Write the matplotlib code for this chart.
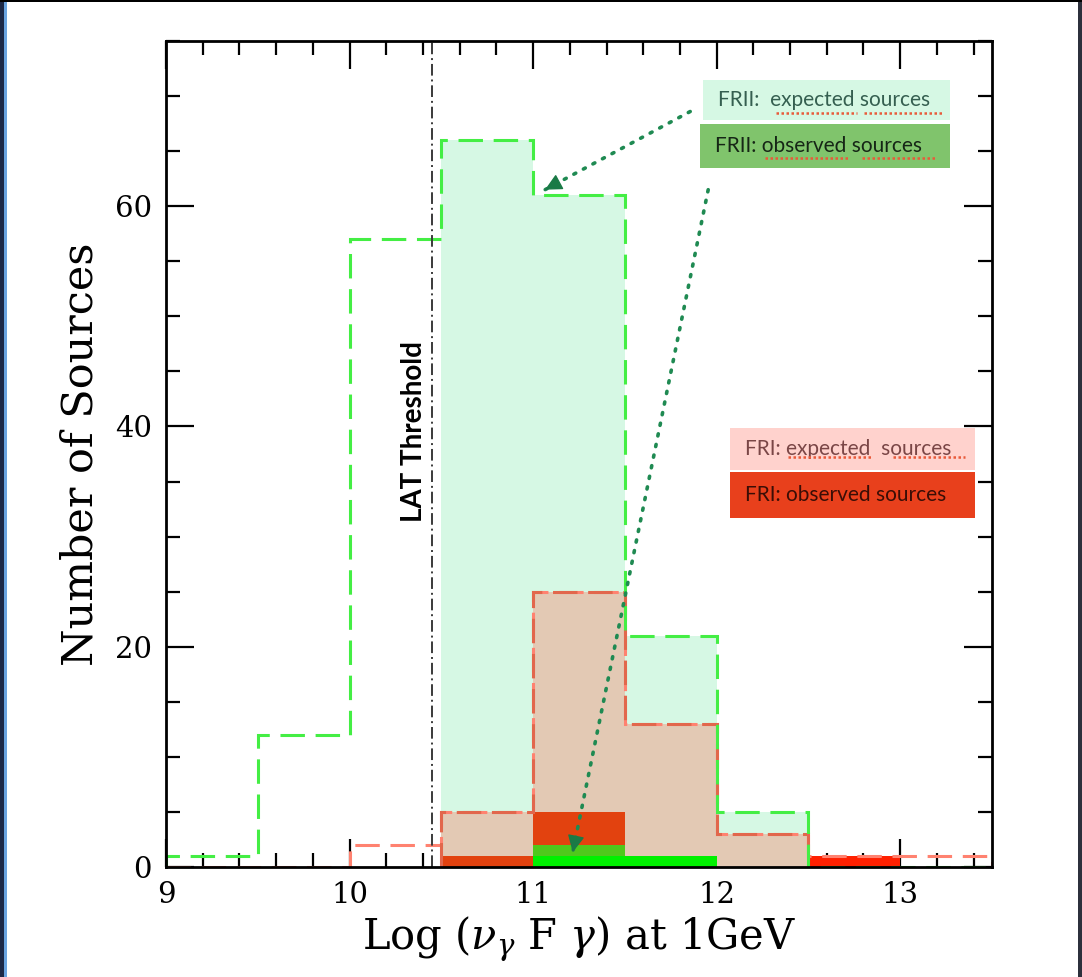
import numpy as np
import matplotlib.pyplot as plt
from matplotlib.patches import Rectangle
from matplotlib.ticker import MultipleLocator

plt.rcParams['mathtext.fontset'] = 'dejavuserif'

# histogram bins in log(nu F nu) at 1 GeV
edges = np.array([9.0, 9.5, 10.0, 10.5, 11.0, 11.5, 12.0, 12.5, 13.0, 13.5])

# expected counts
fr2_exp = np.array([1, 12, 57, 66, 61, 21, 5, 0, 0])
fr1_exp = np.array([0, 0, 2, 5, 25, 13, 3, 1, 1])

# observed counts
fr1_obs = np.array([0, 0, 0, 1, 5, 0, 0, 1, 0])
fr2_obs = np.array([0, 0, 0, 0, 2, 1, 0, 0, 0])
fr2_obs_low = np.array([0, 0, 0, 0, 1, 1, 0, 0, 0])

lat_threshold = 10.45
shade_lo, shade_hi = 10.5, 12.5

fig = plt.figure(figsize=(10.82, 9.77), dpi=100)
ax = fig.add_axes([0.1534, 0.1126, 0.7634, 0.8454])

centers = 0.5 * (edges[:-1] + edges[1:])
widths = np.diff(edges)
inside = (edges[:-1] >= shade_lo) & (edges[1:] <= shade_hi)
i0, i1 = np.where(inside)[0][[0, -1]]

# shaded expected distributions above threshold
ax.stairs(fr2_exp[i0:i1 + 1], edges[i0:i1 + 2], fill=True, color='#d6f8e4', zorder=1)
ax.stairs(fr1_exp[i0:i1 + 1], edges[i0:i1 + 2], fill=True, color='#e3c9b4', zorder=2)

# observed sources
red_cols = ['#e2420f' if m else '#ff2000' for m in inside]
ax.bar(centers, fr1_obs, width=widths, color=red_cols, lw=0, zorder=3)
ax.bar(centers, fr2_obs, width=widths, color='#4fc81c', lw=0, zorder=4)
ax.bar(centers, fr2_obs_low, width=widths, color='#00f000', lw=0, zorder=5)

# expected outlines
ax.stairs(fr1_exp, edges, color='#ff8270', lw=2.2, ls=(0, (8, 3.5)), zorder=6)
ax.stairs(fr1_exp[i0:i1 + 1], edges[i0:i1 + 2], color='#e2674c', lw=2.2,
          ls=(0, (8, 3.5)), zorder=6)
ax.stairs(fr2_exp, edges, color='#44ee44', lw=2.2, ls=(0, (8, 3.5)), zorder=7)

# LAT threshold
ax.axvline(lat_threshold, color='#3a3a3a', lw=1.4, ls=(0, (6, 2, 1, 2)), zorder=8)
ax.text(10.35, 39.5, 'LAT Threshold', rotation=90, ha='center',
        va='center', fontsize=20, fontweight='bold', family='Lato', zorder=9)

ax.set_xlim(9, 13.5)
ax.set_ylim(0, 75)
ax.xaxis.set_major_locator(MultipleLocator(1))
ax.xaxis.set_minor_locator(MultipleLocator(0.2))
ax.yaxis.set_major_locator(MultipleLocator(20))
ax.yaxis.set_minor_locator(MultipleLocator(5))
ax.tick_params(which='both', direction='in', top=True, right=True, width=1.6,
               colors='black', labelsize=21, pad=10)
ax.tick_params(which='major', length=20)
ax.tick_params(which='minor', length=10)
for lab in ax.get_xticklabels() + ax.get_yticklabels():
    lab.set_family('DejaVu Serif')
for sp in ax.spines.values():
    sp.set_linewidth(2)
    sp.set_zorder(10)

ax.set_ylabel('Number of Sources', family='DejaVu Serif', fontsize=31, labelpad=10)
ax.set_xlabel(r'Log ($\nu_\gamma$ F $\gamma$) at 1GeV', family='DejaVu Serif',
              fontsize=30, labelpad=4)

# dotted pointers from the legend boxes
arrows = [((11.856, 68.6), (11.065, 61.5)), ((11.954, 61.5), (11.213, 1.1))]
for (x0, y0), (x1, y1) in arrows:
    ax.plot([x0, x1], [y0, y1], color='#1f8a52', lw=2.6, ls=(0, (0.6, 2.4)),
            dash_capstyle='round', zorder=11)
    dx, dy = x1 - x0, y1 - y0
    ax.annotate('', xy=(x1, y1), xytext=(x1 - 0.02 * dx, y1 - 0.02 * dy),
                arrowprops=dict(arrowstyle='-|>', color='#1a7a46', lw=1,
                                mutation_scale=26), zorder=12)

# legend boxes
boxes = [
    ((0.650, 0.904), 0.299, 0.049, '#d6f8e4', 'FRII:  expected sources', '#355f50'),
    ((0.6465, 0.846), 0.3025, 0.0535, '#80c46c', 'FRII: observed sources', '#162616'),
    ((0.6828, 0.4806), 0.2966, 0.051, '#ffd2cd', 'FRI: expected  sources', '#7a4646'),
    ((0.6828, 0.4225), 0.2966, 0.0557, '#e8401c', 'FRI: observed sources', '#3a0e06'),
]
for (bx, by), bw, bh, fc, txt, tc in boxes:
    ax.add_patch(Rectangle((bx, by), bw, bh, transform=ax.transAxes, fc=fc,
                           ec='none', zorder=13, clip_on=False))
    ax.text(bx + 0.018, by + bh / 2, txt, transform=ax.transAxes, ha='left',
            va='center', fontsize=15, family='Lato', color=tc, zorder=14)

# spell-check underlines
underlines = [
    (0.9129, [(0.739, 0.836), (0.845, 0.940)]),
    (0.8584, [(0.725, 0.826), (0.843, 0.933)]),
    (0.4964, [(0.753, 0.856), (0.880, 0.967)]),
]
for uy, spans in underlines:
    for ux0, ux1 in spans:
        ax.plot([ux0, ux1], [uy, uy], transform=ax.transAxes, color='#e85a3a',
                lw=1.8, ls=(0, (1, 1)), zorder=15, clip_on=False)

# frame strips around the figure
fig.add_artist(Rectangle((0, 0), 4 / 1082, 1, transform=fig.transFigure,
                         fc='#1c2846', ec='none'))
fig.add_artist(Rectangle((4 / 1082, 0), 2.5 / 1082, 1, transform=fig.transFigure,
                         fc='#6aa4e0', ec='none'))
fig.add_artist(Rectangle((1078 / 1082, 0), 4 / 1082, 1, transform=fig.transFigure,
                         fc='#2c303c', ec='none'))
fig.add_artist(Rectangle((0, 1 - 2 / 977), 1, 2 / 977, transform=fig.transFigure,
                         fc='black', ec='none'))

fig.savefig('out.png', dpi=100)
